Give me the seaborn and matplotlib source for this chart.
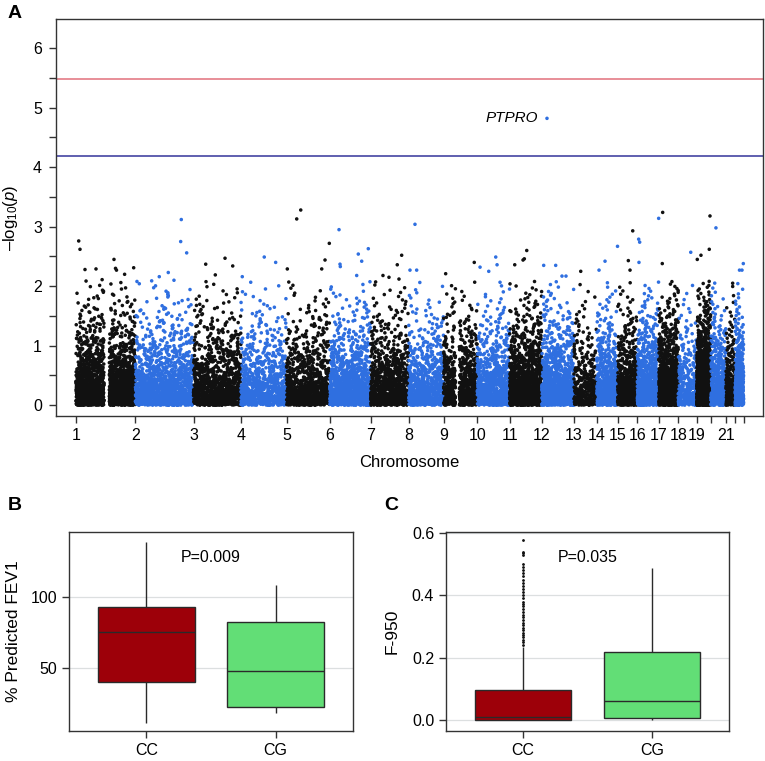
import numpy as np
import pandas as pd
import seaborn as sns
import matplotlib
matplotlib.use("Agg")
from matplotlib import pyplot as plt
from matplotlib.ticker import MultipleLocator

plt.rcParams['font.family'] = ['Liberation Sans', 'DejaVu Sans']
plt.rcParams['mathtext.fontset'] = 'custom'
plt.rcParams['mathtext.rm'] = 'Liberation Sans'
plt.rcParams['mathtext.it'] = 'Liberation Sans:italic'

# ---- Panel A: Manhattan plot data ----
chroms = list(range(1, 23))
# first / last SNP position per chromosome (Mb)
chrom_first_mb = [0.8, 0.0, 0.1, 0.1, 0.1, 0.2, 0.1, 0.2, 0.2, 0.1, 0.2,
                  0.2, 19.0, 20.0, 20.0, 0.1, 0.1, 0.1, 0.2, 0.1, 9.4, 16.0]
chrom_last_mb = [249.0, 243.0, 198.0, 191.0, 181.0, 171.0, 159.0, 146.0,
                 141.0, 135.5, 135.0, 133.8, 115.0, 107.0, 102.5, 90.0,
                 81.0, 78.0, 59.0, 62.9, 48.0, 51.0]
# rough number of SNPs per chromosome (from the density of each column)
chrom_n_snps = [2000, 1300, 1100, 780, 870, 1060, 930, 700, 800, 770, 1250,
                1030, 340, 610, 610, 830, 1150, 280, 1400, 530, 230, 450]
# empty stretches (centromere) seen in the columns
chrom_gaps = {1: (118.0, 140.0), 9: (50.0, 66.0)}
# bulk of the cloud stops around -log10(p) = 2.1
bulk_top = 2.1

# the individual points standing above the cloud: chromosome, Mb, -log10(p)
hit_chrom = [1, 1, 1, 1, 1, 1, 1, 1, 1, 1,
             2, 2, 2, 2, 2, 2, 2,
             3, 3, 3, 3,
             4, 4, 4,
             5, 5, 5, 5, 5, 5,
             6, 6, 6, 6, 6, 6, 6,
             7, 7, 7, 7, 7,
             8, 8, 8,
             9, 9,
             10, 10, 10, 10,
             11, 11, 11, 11,
             12, 12, 12, 12, 12,
             13,
             14, 14, 14,
             15, 15, 15,
             16, 16, 16, 16,
             17, 17,
             18,
             19, 19, 19, 19,
             20,
             21,
             22, 22, 22]
hit_pos = [12.1, 17.5, 38.4, 84.4, 110.0, 159.6, 166.0, 170.0, 204.0, 241.9,
           191.9, 189.4, 214.4, 137.5, 99.9, 68.1, 161.3,
           51.1, 91.2, 131.8, 164.0,
           6.0, 97.9, 145.6,
           3.4, 42.7, 59.5, 178.9, 161.0, 147.2,
           38.7, 42.8, 44.1, 119.3, 133.5, 161.1, 112.6,
           111.3, 129.7, 51.5, 76.6, 118.4,
           26.5, 5.6, 33.6,
           9.0, 128.5,
           11.8, 48.2, 77.4, 82.9,
           21.5, 56.2, 61.6, 71.7,
           7.7, 21.5, 57.9, 84.2, 100.9,
           47.8,
           29.2, 54.3, 106.5,
           64.7, 71.8, 83.1,
           5.5, 9.7, 6.8, 89.1,
           16.0, 14.3,
           52.4,
           1.9, 17.3, 55.0, 52.0,
           21.0,
           37.4,
           34.0, 49.9, 44.4]
hit_logp = [2.76, 2.62, 2.28, 2.29, 2.11, 2.45, 2.30, 2.27, 2.20, 2.31,
            3.12, 2.75, 2.56, 2.23, 2.16, 2.09, 2.10,
            2.37, 2.19, 2.47, 2.34,
            2.16, 2.49, 2.40,
            2.29, 3.13, 3.28, 2.72, 2.44, 2.29,
            2.95, 2.37, 2.33, 2.54, 2.42, 2.63, 2.18,
            2.36, 2.52, 2.18, 2.15, 2.12,
            3.04, 2.27, 2.27,
            2.21, 2.40,
            2.32, 2.25, 2.49, 2.36,
            2.36, 2.44, 2.46, 2.60,
            2.35, 4.82, 2.35, 2.17, 2.17,
            2.25,
            2.27, 2.42, 2.67,
            2.43, 2.27, 2.93,
            2.79, 2.74, 2.40, 3.14,
            3.24, 2.38,
            2.57,
            2.45, 2.52, 3.18, 2.62,
            2.98,
            2.05,
            2.27, 2.38, 2.27]

# threshold lines and the labelled gene
line_suggestive = 4.18
line_genomewide = 5.48
gene_label = "PTPRO"
gene_chrom = 12
gene_pos = 21.5
gene_logp = 4.82

# ---- Panels B / C: box plot summaries ----
genotypes = ["CC", "CG"]
# lower whisker, Q1, median, Q3, upper whisker
fev1_stats = {"CC": [11.2, 40.1, 75.6, 93.3, 139.0],
              "CG": [18.3, 22.8, 47.9, 82.6, 108.5]}
fev1_outliers = {"CC": [], "CG": []}
f950_stats = {"CC": [0.0, 0.001, 0.011, 0.096, 0.235],
              "CG": [0.0, 0.006, 0.061, 0.218, 0.488]}
f950_outliers = {"CC": [0.242, 0.250, 0.258, 0.265, 0.272, 0.280, 0.288,
                        0.296, 0.305, 0.312, 0.320, 0.330, 0.338, 0.346,
                        0.355, 0.365, 0.372, 0.380, 0.390, 0.400, 0.410,
                        0.420, 0.430, 0.440, 0.450, 0.462, 0.472, 0.482,
                        0.492, 0.500, 0.528, 0.535, 0.540, 0.578],
                 "CG": []}
p_fev1 = "P=0.009"
p_f950 = "P=0.035"

black = "#111111"
blue = "#2f6fe0"
box_colors = {"CC": "#9d0009", "CG": "#62de76"}


def cum_offsets():
    spans = np.array(chrom_last_mb) - np.array(chrom_first_mb)
    starts = np.concatenate([[0.0], np.cumsum(spans)[:-1]])
    return starts, spans.sum()


def scramble(k, c):
    # fixed, repeatable shuffle key (no random state involved)
    v = np.sin(k * 12.9898 + c * 78.233) * 43758.5453
    return v - np.floor(v)


def build_manhattan():
    starts, total = cum_offsets()
    frames = []
    for i, c in enumerate(chroms):
        n = chrom_n_snps[i]
        first, last = chrom_first_mb[i], chrom_last_mb[i]
        gap = chrom_gaps.get(c, (last, last))
        usable = (last - first) - (gap[1] - gap[0])
        k = np.arange(n)
        pos = first + usable * (k + 0.5) / n
        pos = np.where(pos >= gap[0], pos + (gap[1] - gap[0]), pos)
        # null spread of p-values up to the top of the cloud
        pmin = 10 ** -bulk_top
        p = pmin + (1 - pmin) * (k + 0.5) / n
        order = np.argsort(scramble(k, c))
        logp = -np.log10(p[order])
        frames.append(pd.DataFrame({"chrom": c,
                                    "x": starts[i] + pos - first,
                                    "logp": logp}))
    hits = pd.DataFrame({"chrom": hit_chrom, "pos": hit_pos, "logp": hit_logp})
    hits["x"] = [starts[c - 1] + p - chrom_first_mb[c - 1]
                 for c, p in zip(hits.chrom, hits.pos)]
    frames.append(hits[["chrom", "x", "logp"]])
    df = pd.concat(frames, ignore_index=True)
    df = df.sort_values("chrom", kind="stable").reset_index(drop=True)
    df["col"] = np.where(df.chrom % 2 == 1, "odd", "even")
    return df, starts, total


def box_sample(stats, outliers):
    lo, q1, med, q3, hi = stats
    m = len(outliers)
    K = m + 1
    vals = [lo] + [q1] * K + [med] * K + [q3] * K + [hi] * (K - m) + list(outliers)
    return vals


def box_frame(stats, outl):
    rows = []
    for g in genotypes:
        for v in box_sample(stats[g], outl[g]):
            rows.append((g, v))
    return pd.DataFrame(rows, columns=["genotype", "value"])


fig = plt.figure(figsize=(7.65, 7.61), dpi=100)

# ---- A ----
axA = fig.add_axes([0.0732, 0.4534, 0.9242, 0.5217])
man, starts, total = build_manhattan()
sns.scatterplot(data=man, x="x", y="logp", hue="col",
                palette={"odd": black, "even": blue},
                s=6.5, linewidth=0, legend=False, ax=axA, zorder=3)
axA.axhline(line_genomewide, color="#e2707c", lw=1.1, zorder=2)
axA.axhline(line_suggestive, color="#34349a", lw=1.1, zorder=2)
gx = starts[gene_chrom - 1] + gene_pos - chrom_first_mb[gene_chrom - 1]
axA.text(gx - 38, gene_logp, gene_label, style="italic", fontsize=11,
         ha="right", va="center")

mb_per_px = 4.18
axA.set_xlim(-20 * mb_per_px, 687 * mb_per_px)
axA.set_ylim(-0.18, 6.49)
xt = list(starts) + [total]
xl = [str(c) for c in chroms] + [""]
xl[19] = ""
xl[21] = ""
axA.set_xticks(xt)
axA.set_xticklabels(xl)
axA.set_yticks(range(0, 7))
axA.yaxis.set_minor_locator(MultipleLocator(0.5))
axA.tick_params(axis="both", which="both", direction="out", length=5,
                width=1, color="#333333", labelsize=11.5)
axA.tick_params(axis="x", pad=4)
axA.tick_params(axis="y", pad=5)
axA.set_xlabel("Chromosome", fontsize=12, labelpad=8)
axA.set_ylabel(r"–log$_{10}$($p$)", fontsize=12)
axA.yaxis.set_label_coords(-0.051, 0.5)
for s in axA.spines.values():
    s.set_color("#333333")
    s.set_linewidth(1)

# ---- B and C ----
def draw_box(ax, stats, outl, ylim, yticks, ylabels, ylabel, ptxt, pty):
    df = box_frame(stats, outl)
    ax.set_axisbelow(True)
    ax.grid(True, color="#dcdfe0", lw=0.9)
    sns.boxplot(data=df, x="genotype", y="value", hue="genotype",
                order=genotypes, palette=box_colors, width=0.75,
                saturation=1, linecolor="#2a2a2a", linewidth=1,
                whis=1.5, showcaps=False, fliersize=1.0,
                flierprops={"marker": "o", "markerfacecolor": "#111111",
                            "markeredgecolor": "#111111"},
                legend=False, ax=ax)
    ax.set_xlim(-0.6, 1.6)
    ax.set_ylim(*ylim)
    ax.set_yticks(yticks)
    ax.set_yticklabels(ylabels)
    ax.set_xlabel("")
    ax.set_ylabel(ylabel, fontsize=12.5)
    ax.text(0.5, pty, ptxt, ha="center", va="center", fontsize=11.5)
    ax.tick_params(axis="both", direction="out", length=5, width=1,
                   color="#333333", labelsize=11.5)
    for s in ax.spines.values():
        s.set_visible(True)
        s.set_color("#333333")
        s.set_linewidth(1)


axB = fig.add_axes([0.0902, 0.0394, 0.3712, 0.2615])
draw_box(axB, fev1_stats, fev1_outliers, (5.6, 145.8), [50, 100],
         ["50", "100"], "% Predicted FEV1", p_fev1, 127.5)
axB.yaxis.set_label_coords(-0.169, 0.5)

axC = fig.add_axes([0.5830, 0.0394, 0.3699, 0.2615])
draw_box(axC, f950_stats, f950_outliers, (-0.035, 0.603),
         [0.0, 0.2, 0.4, 0.6], ["0.0", "0.2", "0.4", "0.6"], "F-950",
         p_f950, 0.52)
axC.yaxis.set_label_coords(-0.163, 0.5)

fig.text(8 / 765, 1 - 13 / 761, "A", fontsize=14, fontweight="bold",
         ha="left", va="center")
fig.text(8 / 765, 1 - 505 / 761, "B", fontsize=14, fontweight="bold",
         ha="left", va="center")
fig.text(384 / 765, 1 - 505 / 761, "C", fontsize=14, fontweight="bold",
         ha="left", va="center")

fig.savefig("out.png", dpi=100)
